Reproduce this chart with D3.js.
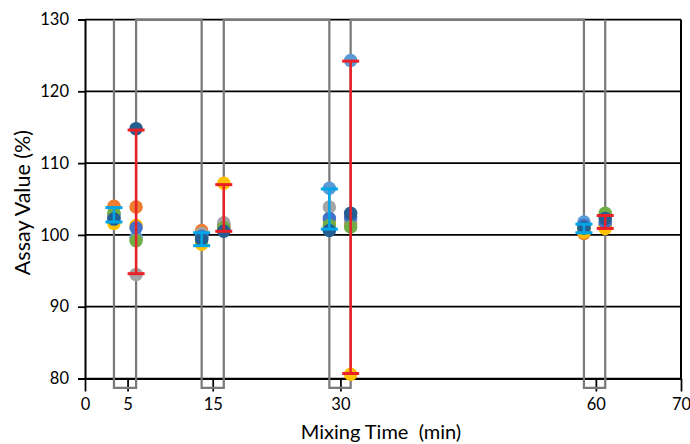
<!DOCTYPE html>
<html>
<head>
<meta charset="utf-8">
<script src="https://cdn.jsdelivr.net/npm/d3@7"></script>
<style>
  body { margin: 0; background: #fff; }
  text { font-family: Lato, "Liberation Sans", sans-serif; fill: #000; white-space: pre; }
</style>
</head>
<body>
<script>
// tick labels
const xTicks = [0, 5, 15, 30, 60, 70];
const yTicks = [80, 90, 100, 110, 120, 130];

// sample columns: left / right of each mixing time (5, 15, 30, 60)
const xPos = [3.4, 6.0, 13.7, 16.3, 28.7, 31.2, 58.6, 61.1];
const waveLow = 78.7;
const waveHigh = 130;

// replicate values per column, one array per colour
const lightBlueVals = [102.8,  99.6,  99.6, 101.5, 106.5, 124.3, 101.8, 101.6];
const orangeVals    = [104.0, 103.9, 100.6, 101.2, 101.0, 101.6, 100.2, 101.2];
const grayVals      = [102.6,  94.5, 100.2, 101.7, 103.9, 102.0, 100.6, 101.5];
const yellowVals    = [101.6, 101.3,  98.7, 107.2, 101.8,  80.6, 100.4, 100.9];
const blueVals      = [102.4, 101.0,  99.8, 100.8, 102.3, 102.5, 101.3, 101.8];
const greenVals     = [103.0,  99.2,  99.3, 101.0, 101.3, 101.1, 100.9, 103.0];
const darkBlueVals  = [102.2, 114.8,  99.4, 100.5, 100.6, 103.0, 101.0, 102.3];

// range bars: left columns (cyan) and right columns (red)
const leftLow   = [101.8,  98.5, 100.8, 100.3];
const leftHigh  = [103.8, 100.3, 106.4, 101.5];
const rightLow  = [ 94.6, 100.5,  80.7, 100.9];
const rightHigh = [114.6, 107.0, 124.2, 102.7];

const series = [
  { color: "#5B9BD5", values: lightBlueVals },
  { color: "#ED7D31", values: orangeVals },
  { color: "#A5A5A5", values: grayVals },
  { color: "#FFC000", values: yellowVals },
  { color: "#4472C4", values: blueVals },
  { color: "#70AD47", values: greenVals },
  { color: "#255E91", values: darkBlueVals }
];

const w = 690, h = 444;
const m = { left: 85, right: 9, top: 19.5, bottom: 65.5 };

const svg = d3.select("body").append("svg")
    .attr("width", w)
    .attr("height", h);

const xScale = d3.scaleLinear().domain([0, 70]).range([m.left, w - m.right]);
const yScale = d3.scaleLinear().domain([80, 130]).range([h - m.bottom, m.top]);

// horizontal gridlines
svg.append("g")
  .selectAll("line")
  .data(yTicks)
  .join("line")
    .attr("x1", xScale(0))
    .attr("x2", xScale(70))
    .attr("y1", d => yScale(d))
    .attr("y2", d => yScale(d))
    .attr("stroke", "#000")
    .attr("stroke-width", 1.75);

// y axis
const yAxis = d3.axisLeft(yScale).tickValues(yTicks).tickSize(7).tickPadding(9);
svg.append("g")
    .attr("transform", "translate(" + xScale(0) + ",0)")
    .call(yAxis)
    .call(g => g.select(".domain").attr("stroke", "#000").attr("stroke-width", 2))
    .call(g => g.selectAll(".tick line").attr("stroke", "#000").attr("stroke-width", 1.75))
    .call(g => g.selectAll("text").style("font-size", "16.5px"));

// right border
svg.append("line")
    .attr("x1", xScale(70)).attr("x2", xScale(70))
    .attr("y1", yScale(130)).attr("y2", yScale(80))
    .attr("stroke", "#000").attr("stroke-width", 2);

// x axis
const xAxis = d3.axisBottom(xScale).tickValues(xTicks).tickSize(13).tickPadding(7).tickSizeOuter(0);
svg.append("g")
    .attr("transform", "translate(0," + yScale(80) + ")")
    .call(xAxis)
    .call(g => g.select(".domain").attr("stroke", "#000").attr("stroke-width", 2))
    .call(g => g.selectAll(".tick line").attr("stroke", "#000").attr("stroke-width", 1.75))
    .call(g => g.selectAll("text").style("font-size", "16.5px"));

// sampling window square wave
const wavePts = [];
for (let i = 0; i < xPos.length; i += 2) {
  wavePts.push([xPos[i], waveHigh], [xPos[i], waveLow], [xPos[i + 1], waveLow], [xPos[i + 1], waveHigh]);
}
svg.append("path")
    .attr("d", d3.line().x(d => xScale(d[0])).y(d => yScale(d[1]))(wavePts))
    .attr("fill", "none")
    .attr("stroke", "#7a7a7a")
    .attr("stroke-width", 2.25);

// points
series.forEach(s => {
  svg.append("g")
    .selectAll("circle")
    .data(s.values)
    .join("circle")
      .attr("cx", (d, i) => xScale(xPos[i]))
      .attr("cy", d => yScale(d))
      .attr("r", 6.75)
      .attr("fill", s.color);
});

// range bars
function bars(lo, hi, offset, color) {
  const g = svg.append("g").attr("stroke", color);
  lo.forEach((d, i) => {
    const x = xScale(xPos[i * 2 + offset]);
    g.append("line").attr("x1", x).attr("x2", x)
      .attr("y1", yScale(d)).attr("y2", yScale(hi[i]))
      .attr("stroke-width", 2.5);
    [d, hi[i]].forEach(v => {
      g.append("line").attr("x1", x - 8.5).attr("x2", x + 8.5)
        .attr("y1", yScale(v)).attr("y2", yScale(v))
        .attr("stroke-width", 3);
    });
  });
}
bars(leftLow, leftHigh, 0, "#00A6E8");
bars(rightLow, rightHigh, 1, "#EA2027");

// axis titles
svg.append("text")
    .attr("x", 381)
    .attr("y", 439)
    .attr("text-anchor", "middle")
    .style("font-size", "20px")
    .text("Mixing Time  (min)");

svg.append("text")
    .attr("transform", "translate(30," + yScale(104.5) + ") rotate(-90)")
    .attr("text-anchor", "middle")
    .style("font-size", "21.5px")
    .text("Assay Value (%)");
</script>
</body>
</html>
